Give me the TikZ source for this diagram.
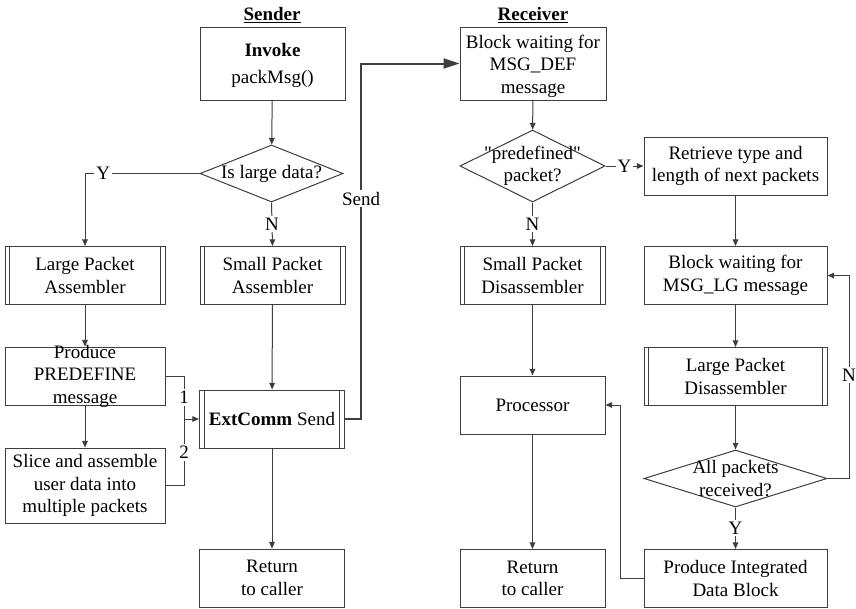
\documentclass[tikz,border=0pt]{standalone}
\usepackage{fontspec}
\setmainfont{Liberation Serif}
% same face without the TeX quote mapping, for straight double quotes
\newfontfamily\straightq{Liberation Serif}
\newcommand{\dq}{{\straightq\symbol{34}}}
\usetikzlibrary{shapes.geometric,arrows.meta}
\definecolor{lc}{RGB}{62,62,62}
\begin{document}
\begin{tikzpicture}[x=0.75pt,y=-0.75pt,
  font=\fontsize{14.25}{16.9}\selectfont,
  wh/.style 2 args={minimum width=#1*0.75pt, minimum height=#2*0.75pt},
  box/.style={draw=lc, line width=0.75pt, inner sep=0pt, align=center},
  proc/.style={box, path picture={
    \draw[lc, line width=0.75pt]
      ([xshift=3.6pt]path picture bounding box.north west) -- ([xshift=3.6pt]path picture bounding box.south west)
      ([xshift=-3.6pt]path picture bounding box.north east) -- ([xshift=-3.6pt]path picture bounding box.south east);}},
  dia/.style={diamond, draw=lc, line width=0.75pt, inner sep=0pt},
  txt/.style={align=center, inner sep=0pt},
  ttl/.style={inner sep=0pt},
  ln/.style={draw=lc, line width=0.75pt},
  arr/.style={ln, -{Triangle[length=5pt,width=4.2pt]}},
  sendarr/.style={draw=lc, line width=1.5pt, -{Triangle[length=12pt,width=7.5pt]}},
  lbl/.style={fill=white, inner sep=1.5pt, text=black}
]
% canvas
\fill[white] (0,0) rectangle (856,608);
\useasboundingbox (0,0) rectangle (856,608);

% ---------------- sender side ----------------
\node[ttl] (sendt) at (272,15) {\underline{\textbf{Sender}}};
\node[box, wh={145}{73}, label={[txt, yshift=-1.5pt]center:{\textbf{Invoke}\\[3pt]packMsg()}}] (inv) at (272.5,63.5) {};
\node[dia, wh={143}{57}, label={[txt]center:Is large data?}] (d1) at (271.5,173.5) {};
\node[proc, wh={160}{58}] (lpa) at (85,275.5) {Large Packet\\Assembler};
\node[proc, wh={145}{58}] (spa) at (272.5,275.5) {Small Packet\\Assembler};
\node[box, wh={160}{58}, label={[txt]center:{Produce\\PREDEFINE\\message}}] (prd) at (85,376) {};
\node[box, wh={160}{75}] (slc) at (85,485.5) {Slice and assemble\\user data into\\multiple packets};
\node[proc, wh={145}{58}] (ext) at (272,419) {\textbf{ExtComm} Send};
\node[box, wh={145}{58}] (ret1) at (272,578) {Return\\to caller};

\coordinate (jn) at (184,419);
\coordinate (sx) at (361,419);

\draw[arr] (inv) -- (d1);
\draw[arr] (d1.west) -| (lpa.north) node[lbl, pos=0.42] {Y};
\draw[arr] (d1.south) -- (spa.north) node[lbl, midway] {N};
\draw[arr] (lpa) -- (prd);
\draw[arr] (prd) -- (slc);
\draw[ln] (prd.east) -| (jn) node[lbl, pos=0.75] {1};
\draw[ln] (slc.east) -| (jn) node[lbl, pos=0.75] {2};
\draw[arr] (jn) -- (ext.west);
\draw[arr] (spa) -- (ext);
\draw[arr] (ext) -- (ret1);

% ---------------- receiver side ----------------
\node[ttl] (recvt) at (533,15) {\underline{\textbf{Receiver}}};
\node[box, wh={146}{73}, label={[txt, yshift=-2pt]center:{Block waiting for\\MSG\_DEF\\message}}] (rcv) at (533,63.5) {};
\node[dia, wh={145}{72}, label={[txt]center:{\dq predefined\dq\\packet?}}] (d2) at (532.5,166) {};
\node[box, wh={183}{58}] (retr) at (735.5,166) {Retrieve type and\\length of next packets};
\node[proc, wh={145}{58}] (spd) at (532.5,275.5) {Small Packet\\Disassembler};
\node[box, wh={183}{58}] (blg) at (735.5,275.5) {Block waiting for\\MSG\_LG message};
\node[proc, wh={183}{58}] (lpd) at (735.5,376.5) {Large Packet\\Disassembler};
\node[box, wh={145}{58}] (prc) at (532.5,405) {Processor};
\node[dia, wh={183}{57}, label={[txt]center:{All packets\\received?}}] (d3) at (735.5,478.5) {};
\node[box, wh={145}{58}] (ret2) at (532.5,578.5) {Return\\to caller};
\node[box, wh={183}{58}] (pidb) at (735.5,578.5) {Produce Integrated\\Data Block};

\coordinate (nx) at (849,478.5);
\coordinate (px) at (620,578.5);

\draw[sendarr] (ext.east) -- (sx) |- (rcv.west) node[lbl, pos=0.31] {Send};

\draw[arr] (rcv) -- (d2);
\draw[arr] (d2.east) -- (retr.west) node[lbl, midway] {Y};
\draw[arr] (d2.south) -- (spd.north) node[lbl, midway] {N};
\draw[arr] (retr) -- (blg);
\draw[arr] (blg) -- (lpd);
\draw[arr] (lpd) -- (d3.north);
\draw[arr] (d3.south) -- (pidb.north) node[lbl, midway] {Y};
\draw[arr] (spd) -- (prc);
\draw[arr] (prc) -- (ret2);
\draw[arr] (d3.east) -- (nx) |- (blg.east) node[lbl, pos=0.255] {N};
\draw[arr] (pidb.west) -- (px) |- (prc.east);
\end{tikzpicture}
\end{document}
